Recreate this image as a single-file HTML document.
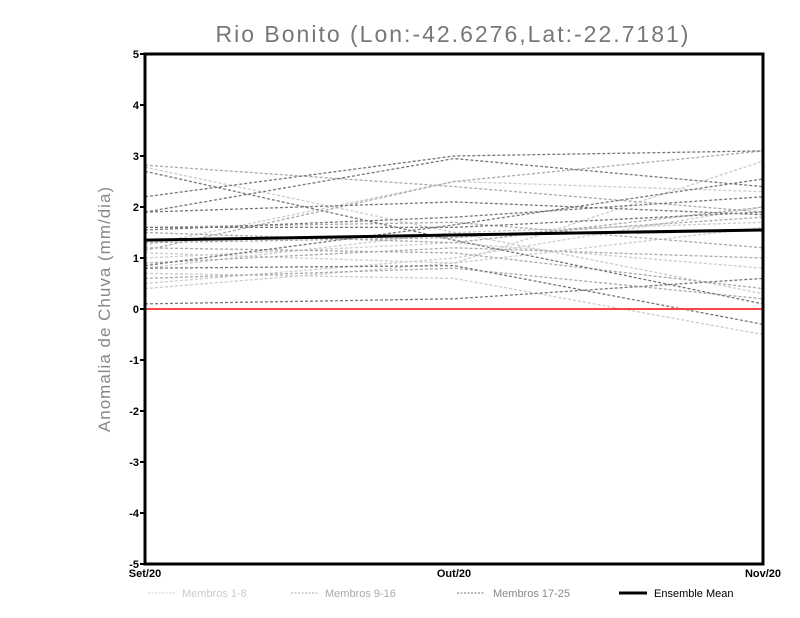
<!DOCTYPE html>
<html><head><meta charset="utf-8"><style>
body{margin:0;background:#fff;}
svg{display:block;font-family:"Liberation Sans",sans-serif;}
</style></head><body>
<svg id="c" width="800" height="618">
<text x="453" y="42" text-anchor="middle" font-size="23" fill="#777" letter-spacing="2">Rio Bonito (Lon:-42.6276,Lat:-22.7181)</text>
<text transform="translate(110,309) rotate(-90)" text-anchor="middle" font-size="17" fill="#888" letter-spacing="1">Anomalia de Chuva (mm/dia)</text>
<g id="plot"></g>
<g id="legend" font-size="11">
<line x1="148" y1="593" x2="176" y2="593" stroke="#ccc" stroke-dasharray="2,1.5"/>
<text x="182" y="597" fill="#ccc">Membros 1-8</text>
<line x1="291" y1="593" x2="319" y2="593" stroke="#aaa" stroke-dasharray="2,1.5"/>
<text x="325" y="597" fill="#aaa">Membros 9-16</text>
<line x1="457" y1="593" x2="485" y2="593" stroke="#777" stroke-dasharray="2,1.5"/>
<text x="493" y="597" fill="#888">Membros 17-25</text>
<line x1="619" y1="593" x2="647" y2="593" stroke="#000" stroke-width="3"/>
<text x="654" y="597" fill="#000">Ensemble Mean</text>
</g>
</svg>
<script>
const categories=["Set/20","Out/20","Nov/20"];
const yTicks=[-5,-4,-3,-2,-1,0,1,2,3,4,5];
const members1to8=[[2.78,1.5,0.3],[0.4,0.9,2.9],[0.5,1.0,2.0],[1.25,2.5,2.3],[0.7,0.6,-0.5],[1.0,1.3,0.8],[0.8,1.5,1.7],[1.1,0.9,1.6]];
const members9to16=[[2.82,2.4,1.9],[1.6,1.7,1.2],[1.5,1.3,2.0],[1.2,1.1,0.4],[1.3,1.4,1.8],[0.9,1.2,1.0],[0.6,0.8,0.2],[1.15,2.5,3.1]];
const members17to25=[[2.7,1.35,0.1],[2.2,3.0,3.1],[1.9,2.95,2.4],[1.9,2.1,1.85],[0.1,0.2,0.6],[0.85,1.65,2.55],[0.8,0.85,-0.3],[1.6,1.6,1.9],[1.55,1.8,2.2]];
const ensembleMean=[1.35,1.45,1.55];
const NS="http://www.w3.org/2000/svg";
const L=145,R=763,T=54,B=564;
const xs=i=>L+(R-L)*i/(categories.length-1);
const ys=v=>T+(5-v)*(B-T)/10;
const g=document.getElementById('plot');
function mk(t,a){const e=document.createElementNS(NS,t);for(const k in a)e.setAttribute(k,a[k]);g.appendChild(e);return e;}
function pts(d){return d.map((v,i)=>xs(i)+','+ys(v)).join(' ');}
[[members1to8,'#ccc','member-1-8-line'],[members9to16,'#aaa','member-9-16-line'],[members17to25,'#777','member-17-25-line']].forEach(([set,col,nm])=>{
 set.forEach(d=>{const e=mk('polyline',{points:pts(d),fill:'none',stroke:col,'stroke-width':1.3,'stroke-dasharray':'3,2'});
 
 });
});
const z=mk('line',{x1:L,x2:R,y1:ys(0),y2:ys(0),stroke:'#f44',"stroke-width":2});


const m=mk('polyline',{points:pts(ensembleMean),fill:'none',stroke:'#000','stroke-width':3});


const fr=mk('rect',{x:L,y:T,width:R-L,height:B-T,fill:'none',stroke:'#000','stroke-width':3});


yTicks.forEach(v=>{
 const t=mk('line',{x1:L-5,x2:L,y1:ys(v),y2:ys(v),stroke:'#000','stroke-width':2});
 
 
 const tx=mk('text',{x:L-6,y:ys(v)+4,'text-anchor':'end','font-size':11,'font-weight':'bold'});
 tx.textContent=v;
 
 
});
categories.forEach((c,i)=>{
 const tx=mk('text',{x:xs(i),y:B+13,'text-anchor':'middle','font-size':11,'font-weight':'bold'});
 tx.textContent=c;
 
 
});
</script>
</body></html>
